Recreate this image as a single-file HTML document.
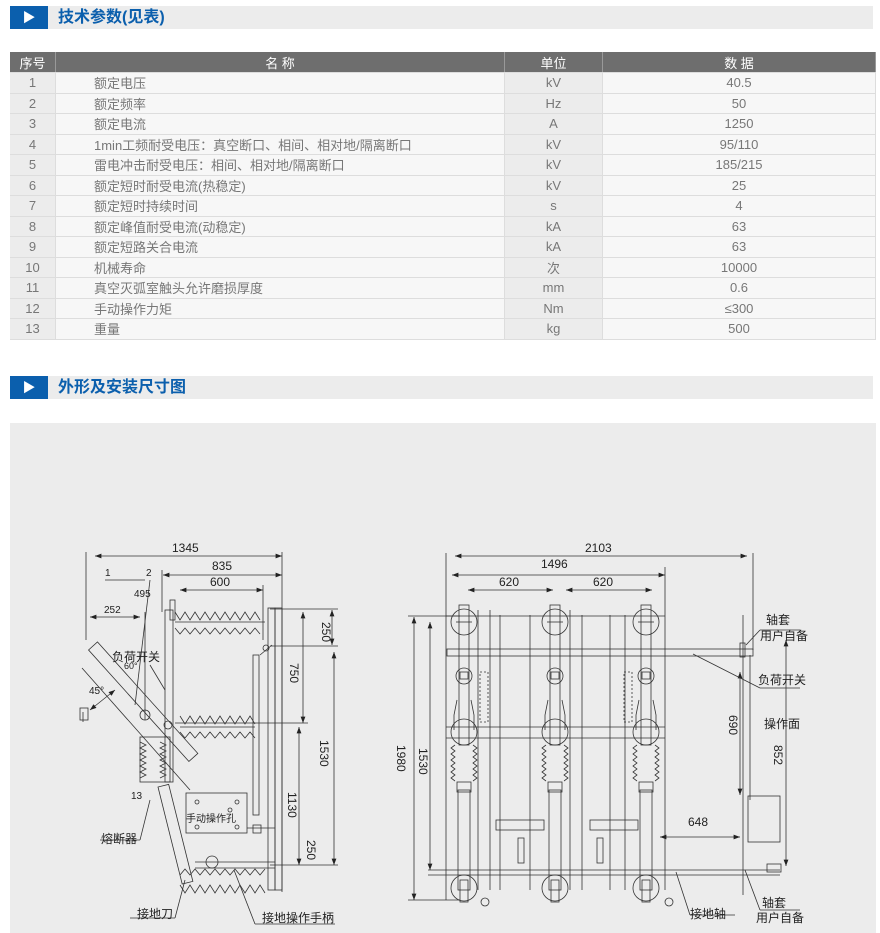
<!DOCTYPE html>
<html><head><meta charset="utf-8"><style>
body{margin:0;width:880px;height:933px;background:#fff;position:relative;overflow:hidden;font-family:"Liberation Sans","Noto Sans CJK SC",sans-serif}
.bar{position:absolute;left:10px;width:863px;height:23px;background:#ececec}
.bar .b{position:absolute;left:0;top:0;width:38px;height:23px;background:#0b5fad;color:#fff;font-size:13px;line-height:23px;text-align:center}
.bar .t{position:absolute;left:48px;top:0;line-height:23px;font-size:16px;color:#0b5fad;font-weight:bold}
table{position:absolute;left:10px;top:52px;width:866px;border-collapse:collapse;font-size:13px;color:#777}
td,th{height:19.5px;padding:0;border-bottom:1px solid #ddd;text-align:center;font-weight:normal}
th{background:#6e6e6e;color:#fff;border-right:1px solid #999;height:20px}
td{background:#f7f7f7;border-right:1px solid #ddd}
td.g{background:#ececec}
td.n{text-align:left;padding-left:38px}
.panel{position:absolute;left:10px;top:423px;width:866px;height:510px;background:#ececec}
</style></head><body>
<div class="bar" style="top:6px"><div class="b">▶</div><div class="t">技术参数(见表)</div></div>
<table>
<tr><th style="width:45px">序号</th><th style="width:448px">名 称</th><th style="width:97px">单位</th><th>数 据</th></tr>
<tr><td class="g">1</td><td class="n">额定电压</td><td class="g">kV</td><td>40.5</td></tr>
<tr><td class="g">2</td><td class="n">额定频率</td><td class="g">Hz</td><td>50</td></tr>
<tr><td class="g">3</td><td class="n">额定电流</td><td class="g">A</td><td>1250</td></tr>
<tr><td class="g">4</td><td class="n">1min工频耐受电压：真空断口、相间、相对地/隔离断口</td><td class="g">kV</td><td>95/110</td></tr>
<tr><td class="g">5</td><td class="n">雷电冲击耐受电压：相间、相对地/隔离断口</td><td class="g">kV</td><td>185/215</td></tr>
<tr><td class="g">6</td><td class="n">额定短时耐受电流(热稳定)</td><td class="g">kV</td><td>25</td></tr>
<tr><td class="g">7</td><td class="n">额定短时持续时间</td><td class="g">s</td><td>4</td></tr>
<tr><td class="g">8</td><td class="n">额定峰值耐受电流(动稳定)</td><td class="g">kA</td><td>63</td></tr>
<tr><td class="g">9</td><td class="n">额定短路关合电流</td><td class="g">kA</td><td>63</td></tr>
<tr><td class="g">10</td><td class="n">机械寿命</td><td class="g">次</td><td>10000</td></tr>
<tr><td class="g">11</td><td class="n">真空灭弧室触头允许磨损厚度</td><td class="g">mm</td><td>0.6</td></tr>
<tr><td class="g">12</td><td class="n">手动操作力矩</td><td class="g">Nm</td><td>≤300</td></tr>
<tr><td class="g">13</td><td class="n">重量</td><td class="g">kg</td><td>500</td></tr>
</table>
<div class="bar" style="top:376px"><div class="b">▶</div><div class="t">外形及安装尺寸图</div></div>
<div class="panel"></div>
<svg style="position:absolute;left:0;top:0" width="880" height="933" font-family="Liberation Sans,Noto Sans CJK SC,sans-serif" font-size="11" fill="#222">
<defs><marker id="a" markerWidth="8" markerHeight="6" refX="8" refY="3" orient="auto-start-reverse"><path d="M0,0L8,3L0,6z" fill="#222"/></marker></defs>
<g stroke="#333" stroke-width="0.8" fill="none">
<!-- left dims -->
<line x1="95" y1="556" x2="282" y2="556" marker-start="url(#a)" marker-end="url(#a)"/>
<line x1="163" y1="575" x2="282" y2="575" marker-start="url(#a)" marker-end="url(#a)"/>
<line x1="180" y1="590" x2="263" y2="590" marker-start="url(#a)" marker-end="url(#a)"/>
<line x1="90" y1="617" x2="140" y2="617" marker-start="url(#a)" marker-end="url(#a)"/>
<line x1="86" y1="552" x2="86" y2="640"/><line x1="162" y1="570" x2="162" y2="612"/>
<line x1="282" y1="552" x2="282" y2="892"/><line x1="263" y1="585" x2="263" y2="640"/>
<line x1="145" y1="612" x2="145" y2="720"/>
<line x1="332" y1="610" x2="332" y2="645" marker-start="url(#a)" marker-end="url(#a)"/>
<line x1="303" y1="612" x2="303" y2="723" marker-start="url(#a)" marker-end="url(#a)"/>
<line x1="334" y1="652" x2="334" y2="865" marker-start="url(#a)" marker-end="url(#a)"/>
<line x1="299" y1="727" x2="299" y2="865" marker-start="url(#a)" marker-end="url(#a)"/>
<line x1="270" y1="609" x2="338" y2="609"/><line x1="270" y1="646" x2="338" y2="646"/>
<line x1="175" y1="723" x2="308" y2="723"/><line x1="270" y1="865" x2="338" y2="865"/>
<!-- frames -->
<rect x="165" y="610" width="8" height="172"/><rect x="170" y="600" width="5" height="20"/>
<rect x="268" y="608" width="7" height="282"/><rect x="275" y="608" width="7" height="282"/>
<rect x="253" y="655" width="6" height="160"/><line x1="260" y1="655" x2="272" y2="645"/>
<circle cx="266" cy="648" r="3"/>
<rect x="87" y="646" width="12" height="150" transform="rotate(-42 93 646)"/>
<line x1="82" y1="668" x2="190" y2="790"/>
<circle cx="145" cy="715" r="5"/><circle cx="168" cy="725" r="4"/>
<line x1="83" y1="712" x2="83" y2="722"/><rect x="80" y="708" width="8" height="12"/>
<line x1="90" y1="710" x2="115" y2="690" marker-start="url(#a)" marker-end="url(#a)"/>
<rect x="140" y="737" width="30" height="45"/>
<path d="M140,742 l6,3 -6,3 6,3 -6,3 6,3 -6,3 6,3 -6,3 6,3 -6,3 6,3 -6,3 M160,742 l6,3 -6,3 6,3 -6,3 6,3 -6,3 6,3 -6,3 6,3 -6,3 6,3 -6,3"/>
<rect x="158" y="787" width="11" height="100" transform="rotate(-14 158 787)"/>
<rect x="186" y="793" width="61" height="40"/>
<circle cx="197" cy="802" r="2"/><circle cx="237" cy="802" r="2"/><circle cx="197" cy="827" r="2"/><circle cx="237" cy="827" r="2"/><circle cx="230" cy="810" r="2"/>
<line x1="247" y1="828" x2="275" y2="828"/><rect x="253" y="825" width="8" height="8"/>
<line x1="195" y1="862" x2="275" y2="862"/><line x1="195" y1="868" x2="275" y2="868"/><circle cx="212" cy="862" r="6"/>
<path d="M175,622 h90 M175,612 l5,8 5,-8 5,8 5,-8 5,8 5,-8 5,8 5,-8 5,8 5,-8 5,8 5,-8 5,8 5,-8 5,8 5,-8 5,8 M175,628 l5,6 5,-6 5,6 5,-6 5,6 5,-6 5,6 5,-6 5,6 5,-6 5,6 5,-6 5,6 5,-6 5,6 5,-6 5,6"/>
<path d="M180,727 h75 M180,716 l5,8 5,-8 5,8 5,-8 5,8 5,-8 5,8 5,-8 5,8 5,-8 5,8 5,-8 5,8 5,-8 5,8 M180,732 l5,6 5,-6 5,6 5,-6 5,6 5,-6 5,6 5,-6 5,6 5,-6 5,6 5,-6 5,6 5,-6 5,6"/>
<path d="M180,875 l5,-6 5,6 5,-6 5,6 5,-6 5,6 5,-6 5,6 5,-6 5,6 5,-6 5,6 5,-6 5,6 5,-6 5,6 5,-6 M180,885 l5,8 5,-8 5,8 5,-8 5,8 5,-8 5,8 5,-8 5,8 5,-8 5,8 5,-8 5,8 5,-8 5,8 5,-8 5,8"/>
<line x1="150" y1="580" x2="135" y2="705"/><line x1="105" y1="580" x2="145" y2="580"/>
<line x1="150" y1="665" x2="165" y2="690"/><line x1="150" y1="800" x2="140" y2="840"/><line x1="100" y1="840" x2="140" y2="840"/>
<line x1="185" y1="880" x2="175" y2="918"/><line x1="130" y1="918" x2="175" y2="918"/>
<line x1="234" y1="870" x2="255" y2="924"/><line x1="255" y1="924" x2="335" y2="924"/>
<!-- right drawing dims -->
<line x1="455" y1="556" x2="747" y2="556" marker-start="url(#a)" marker-end="url(#a)"/>
<line x1="452" y1="575" x2="665" y2="575" marker-start="url(#a)" marker-end="url(#a)"/>
<line x1="468" y1="590" x2="553" y2="590" marker-start="url(#a)" marker-end="url(#a)"/>
<line x1="566" y1="590" x2="652" y2="590" marker-start="url(#a)" marker-end="url(#a)"/>
<line x1="446" y1="553" x2="446" y2="900"/><line x1="665" y1="567" x2="665" y2="890"/><line x1="753" y1="553" x2="753" y2="650"/>
<line x1="414" y1="617" x2="414" y2="900" marker-start="url(#a)" marker-end="url(#a)"/>
<line x1="430" y1="622" x2="430" y2="870" marker-start="url(#a)" marker-end="url(#a)"/>
<line x1="408" y1="616" x2="460" y2="616"/><line x1="408" y1="900" x2="460" y2="900"/>
<line x1="428" y1="870" x2="780" y2="870"/><line x1="428" y1="875" x2="780" y2="875"/>
<rect x="447" y="649" width="306" height="7"/>
<line x1="740" y1="672" x2="740" y2="795" marker-start="url(#a)" marker-end="url(#a)"/>
<line x1="786" y1="640" x2="786" y2="866" marker-start="url(#a)" marker-end="url(#a)"/>
<line x1="660" y1="837" x2="740" y2="837" marker-start="url(#a)" marker-end="url(#a)"/>
<line x1="743" y1="615" x2="743" y2="895"/><line x1="750" y1="655" x2="750" y2="800"/>
<rect x="748" y="796" width="32" height="46"/><rect x="767" y="864" width="14" height="8"/>
<rect x="740" y="643" width="5" height="14"/>
<line x1="746" y1="645" x2="760" y2="630"/><line x1="760" y1="630" x2="800" y2="630"/>
<line x1="693" y1="654" x2="760" y2="688"/><line x1="760" y1="688" x2="800" y2="688"/>
<line x1="676" y1="872" x2="690" y2="915"/><line x1="690" y1="915" x2="735" y2="915"/>
<line x1="745" y1="870" x2="760" y2="910"/><line x1="760" y1="910" x2="800" y2="910"/>
<g id="ph">
<circle cx="464" cy="622" r="13"/><rect x="459" y="605" width="10" height="140"/><line x1="456" y1="622" x2="472" y2="622"/>
<circle cx="464" cy="676" r="8"/><rect x="460" y="672" width="8" height="7"/>
<path d="M457,700 l-3,15 v15 M471,700 l3,15 v15"/>
<circle cx="464" cy="732" r="13"/>
<path d="M455,745 l-4,3 4,3 -4,3 4,3 -4,3 4,3 -4,3 4,3 -4,3 4,3 -4,3 4,3 M473,745 l4,3 -4,3 4,3 -4,3 4,3 -4,3 4,3 -4,3 4,3 -4,3 4,3 -4,3"/>
<rect x="458" y="790" width="12" height="100"/><rect x="457" y="782" width="14" height="10"/>
<circle cx="464" cy="888" r="13"/><rect x="460" y="880" width="8" height="22"/>
</g>
<use href="#ph" x="91"/><use href="#ph" x="182"/>
<line x1="478" y1="610" x2="478" y2="890"/><line x1="490" y1="610" x2="490" y2="890"/><line x1="500" y1="615" x2="500" y2="890"/><line x1="530" y1="615" x2="530" y2="890"/>
<line x1="570" y1="610" x2="570" y2="890"/><line x1="582" y1="615" x2="582" y2="890"/><line x1="610" y1="615" x2="610" y2="890"/><line x1="625" y1="615" x2="625" y2="890"/>
<line x1="446" y1="616" x2="665" y2="616"/><line x1="446" y1="727" x2="665" y2="727"/><line x1="446" y1="738" x2="665" y2="738"/>
<rect x="496" y="820" width="48" height="10"/><rect x="590" y="820" width="48" height="10"/>
<rect x="518" y="838" width="6" height="25"/><rect x="597" y="838" width="6" height="25"/>
<rect x="480" y="672" width="8" height="50" stroke-dasharray="2 2"/><rect x="624" y="672" width="8" height="50" stroke-dasharray="2 2"/>
<circle cx="485" cy="902" r="4"/><circle cx="669" cy="902" r="4"/>
</g>
<g font-size="12">
<text x="172" y="552">1345</text><text x="212" y="570">835</text><text x="210" y="586">600</text>
<text x="104" y="613" font-size="10">252</text><text x="134" y="597" font-size="10">495</text>
<text x="105" y="576" font-size="10">1</text><text x="146" y="576" font-size="10">2</text>
<text x="112" y="661">负荷开关</text><text x="124" y="669" font-size="9">60°</text>
<text x="89" y="694" font-size="10">45°</text><text x="131" y="799" font-size="10">13</text>
<text x="101" y="843">熔断器</text><text x="186" y="822" font-size="10">手动操作孔</text>
<text x="137" y="918">接地刀</text><text x="262" y="922">接地操作手柄</text>
<text transform="translate(322,622) rotate(90)">250</text><text transform="translate(290,663) rotate(90)">750</text>
<text transform="translate(320,740) rotate(90)">1530</text><text transform="translate(288,792) rotate(90)">1130</text>
<text transform="translate(307,840) rotate(90)">250</text>
<text x="585" y="552">2103</text><text x="541" y="568">1496</text><text x="499" y="586">620</text><text x="593" y="586">620</text>
<text transform="translate(397,745) rotate(90)">1980</text><text transform="translate(419,748) rotate(90)">1530</text>
<text transform="translate(729,715) rotate(90)">690</text><text transform="translate(774,745) rotate(90)">852</text>
<text x="766" y="624">轴套</text><text x="760" y="640">用户自备</text><text x="758" y="684">负荷开关</text><text x="764" y="728">操作面</text>
<text x="688" y="826">648</text><text x="690" y="918">接地轴</text><text x="762" y="907">轴套</text><text x="756" y="922">用户自备</text>
</g>
</svg>
</body></html>
